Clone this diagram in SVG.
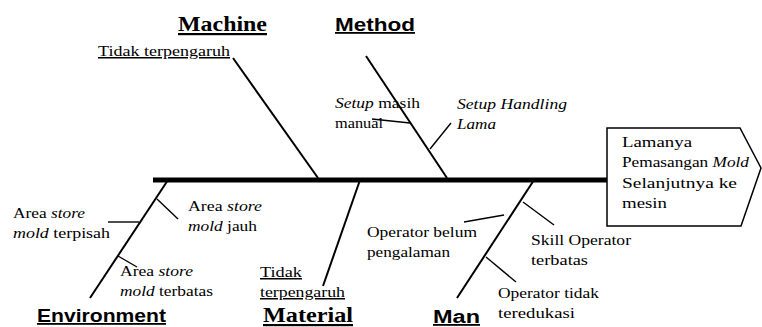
<svg xmlns="http://www.w3.org/2000/svg" width="762" height="327" viewBox="0 0 762 327">
<style>
.t{font-size:15px;fill:#000}
.i{font-style:italic}
.u{text-decoration:underline}
.hs{font-size:18px;font-weight:bold;fill:#000;text-decoration:underline}
.hr{font-size:22px;font-weight:bold;fill:#000;text-decoration:underline}
.bone{stroke:#000;stroke-width:2;fill:none}
.sub{stroke:#000;stroke-width:1.4;fill:none}
.spine{stroke:#000;stroke-width:5;fill:none}
</style>
<rect width="762" height="327" fill="#fff"/>
<g id="connectors">
<line class="spine" x1="153" y1="180" x2="607" y2="180"/>
<line class="bone" x1="233" y1="58" x2="318" y2="178"/>
<line class="bone" x1="366" y1="56" x2="447" y2="178"/>
<line class="bone" x1="168" y1="180" x2="90" y2="298"/>
<line class="bone" x1="360" y1="180" x2="323" y2="286"/>
<line class="bone" x1="534" y1="180" x2="457" y2="298"/>
<line class="sub" x1="372" y1="119" x2="410" y2="123"/>
<line class="sub" x1="430" y1="149" x2="451" y2="123"/>
<line class="sub" x1="108" y1="222" x2="139" y2="222"/>
<line class="sub" x1="157" y1="199" x2="178" y2="219"/>
<line class="sub" x1="118" y1="256" x2="137" y2="267"/>
<line class="sub" x1="464" y1="222" x2="504" y2="215"/>
<line class="sub" x1="523" y1="202" x2="554" y2="225"/>
<line class="sub" x1="486" y1="257" x2="516" y2="282"/>
</g>
<g id="effect">
<polygon points="607,128 740,128 761,168 741,226 607,226" fill="#fff" stroke="#000" stroke-width="1.5"/>
<text class="t" font-family="Liberation Serif, serif" x="622" y="147" textLength="70" lengthAdjust="spacingAndGlyphs">Lamanya</text>
<text class="t" font-family="Liberation Serif, serif" x="622" y="167" textLength="127" lengthAdjust="spacingAndGlyphs">Pemasangan <tspan class="i">Mold</tspan></text>
<text class="t" font-family="Liberation Serif, serif" x="622" y="188" textLength="115" lengthAdjust="spacingAndGlyphs">Selanjutnya ke</text>
<text class="t" font-family="Liberation Serif, serif" x="622" y="208" textLength="45" lengthAdjust="spacingAndGlyphs">mesin</text>
</g>
<g id="machine">
<text class="hr" font-family="Liberation Serif, serif" x="178" y="31" textLength="89" lengthAdjust="spacingAndGlyphs">Machine</text>
<text class="t u" font-family="Liberation Serif, serif" x="98" y="56" textLength="132" lengthAdjust="spacingAndGlyphs">Tidak terpengaruh</text>
</g>
<g id="method">
<text class="hs" font-family="Liberation Sans, sans-serif" x="335" y="31" textLength="80" lengthAdjust="spacingAndGlyphs">Method</text>
<text class="t" font-family="Liberation Serif, serif" x="335" y="108" textLength="85" lengthAdjust="spacingAndGlyphs"><tspan class="i">Setup</tspan> masih</text>
<text class="t" font-family="Liberation Serif, serif" x="335" y="128" textLength="48" lengthAdjust="spacingAndGlyphs">manual</text>
<text class="t i" font-family="Liberation Serif, serif" x="457" y="109" textLength="110" lengthAdjust="spacingAndGlyphs">Setup Handling</text>
<text class="t i" font-family="Liberation Serif, serif" x="457" y="129" textLength="39" lengthAdjust="spacingAndGlyphs">Lama</text>
</g>
<g id="environment">
<text class="hs" font-family="Liberation Sans, sans-serif" x="37" y="322" textLength="129" lengthAdjust="spacingAndGlyphs">Environment</text>
<text class="t" font-family="Liberation Serif, serif" x="13" y="218" textLength="72" lengthAdjust="spacingAndGlyphs">Area <tspan class="i">store</tspan></text>
<text class="t" font-family="Liberation Serif, serif" x="13" y="238" textLength="97" lengthAdjust="spacingAndGlyphs"><tspan class="i">mold</tspan> terpisah</text>
<text class="t" font-family="Liberation Serif, serif" x="188" y="211" textLength="74" lengthAdjust="spacingAndGlyphs">Area <tspan class="i">store</tspan></text>
<text class="t" font-family="Liberation Serif, serif" x="188" y="231" textLength="69" lengthAdjust="spacingAndGlyphs"><tspan class="i">mold</tspan> jauh</text>
<text class="t" font-family="Liberation Serif, serif" x="120" y="276" textLength="73" lengthAdjust="spacingAndGlyphs">Area <tspan class="i">store</tspan></text>
<text class="t" font-family="Liberation Serif, serif" x="120" y="296" textLength="93" lengthAdjust="spacingAndGlyphs"><tspan class="i">mold</tspan> terbatas</text>
</g>
<g id="material">
<text class="hr" font-family="Liberation Serif, serif" x="263" y="322" textLength="90" lengthAdjust="spacingAndGlyphs">Material</text>
<text class="t u" font-family="Liberation Serif, serif" x="260" y="277" textLength="42" lengthAdjust="spacingAndGlyphs">Tidak</text>
<text class="t u" font-family="Liberation Serif, serif" x="260" y="297" textLength="85" lengthAdjust="spacingAndGlyphs">terpengaruh</text>
</g>
<g id="man">
<text class="hs" font-family="Liberation Sans, sans-serif" x="433" y="323" textLength="47" lengthAdjust="spacingAndGlyphs">Man</text>
<text class="t" font-family="Liberation Serif, serif" x="367" y="237" textLength="110" lengthAdjust="spacingAndGlyphs">Operator belum</text>
<text class="t" font-family="Liberation Serif, serif" x="367" y="257" textLength="83" lengthAdjust="spacingAndGlyphs">pengalaman</text>
<text class="t" font-family="Liberation Serif, serif" x="531" y="245" textLength="100" lengthAdjust="spacingAndGlyphs">Skill Operator</text>
<text class="t" font-family="Liberation Serif, serif" x="531" y="265" textLength="57" lengthAdjust="spacingAndGlyphs">terbatas</text>
<text class="t" font-family="Liberation Serif, serif" x="498" y="298" textLength="101" lengthAdjust="spacingAndGlyphs">Operator tidak</text>
<text class="t" font-family="Liberation Serif, serif" x="498" y="318" textLength="77" lengthAdjust="spacingAndGlyphs">teredukasi</text>
</g>
</svg>
